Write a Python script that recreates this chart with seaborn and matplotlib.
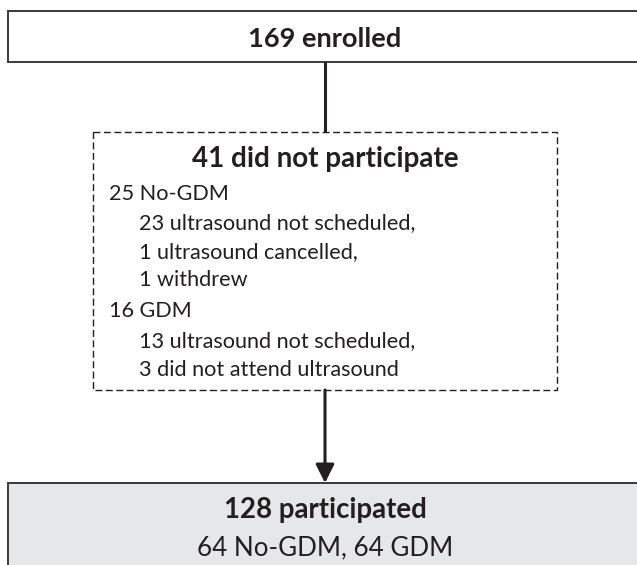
import matplotlib
matplotlib.use("Agg")
import matplotlib.pyplot as plt
import seaborn as sns
from matplotlib.patches import Rectangle, FancyArrowPatch

# Data
top_label = "169 enrolled"
excl_title = "41 did not participate"
excl_groups = ["25 No-GDM", "16 GDM"]
excl_details = [
    ["23 ultrasound not scheduled,", "1 ultrasound cancelled,", "1 withdrew"],
    ["13 ultrasound not scheduled,", "3 did not attend ultrasound"],
]
bottom_title = "128 participated"
bottom_sub = "64 No-GDM, 64 GDM"

sns.set_theme(style="white")
plt.rcParams['font.family'] = ['Lato', 'DejaVu Sans']

fig = plt.figure(figsize=(6.37, 5.65), dpi=100)
ax = fig.add_axes([0, 0, 1, 1])
ax.set_xlim(0, 637)
ax.set_ylim(565, 0)
ax.axis("off")

txt = "#231f20"
edge = "#3a3a3a"
cx = 325

# Top box
ax.add_patch(Rectangle((8, 11), 700, 51, facecolor="white", edgecolor=edge, lw=1.4))
ax.text(cx, 47, top_label, ha="center", va="baseline", fontsize=19.6, fontweight="bold", color=txt)

# Connector
ax.plot([cx, cx], [62, 132], color=txt, lw=2.2, solid_capstyle="butt")

# Dashed box
ax.add_patch(Rectangle((93, 132), 464, 258, facecolor="white", edgecolor=txt, lw=1.0,
                       linestyle=(0, (5, 2.5))))
ax.text(cx, 167, excl_title, ha="center", va="baseline", fontsize=20.0, fontweight="bold", color=txt)

baselines = [[200, 229, 258, 286], [317, 347, 376]]
for g, dets, bl in zip(excl_groups, excl_details, baselines):
    ax.text(109, bl[0], g, ha="left", va="baseline", fontsize=15.6, color=txt)
    for d, yb in zip(dets, bl[1:]):
        ax.text(139, yb, d, ha="left", va="baseline", fontsize=15.6, color=txt)

# Arrow
ax.add_patch(FancyArrowPatch((cx, 390), (cx, 483), arrowstyle="-|>,head_length=7,head_width=3.5",
                             color=txt, lw=2.2, shrinkA=0, shrinkB=0, mutation_scale=1.6))

# Bottom box
ax.add_patch(Rectangle((8, 483), 700, 120, facecolor="#e6e7e8", edgecolor=edge, lw=1.4))
ax.text(cx, 518, bottom_title, ha="center", va="baseline", fontsize=19.9, fontweight="bold", color=txt)
ax.text(cx, 555, bottom_sub, ha="center", va="baseline", fontsize=18.7, color=txt)

fig.savefig("out.png", dpi=100)
